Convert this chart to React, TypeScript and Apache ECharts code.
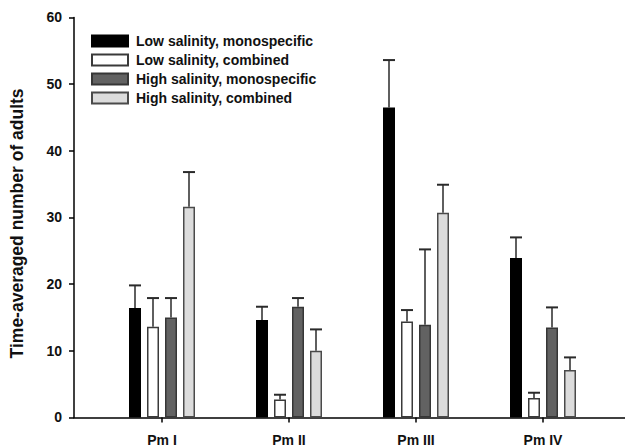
import React, { useEffect, useRef } from "react";
import * as echarts from "echarts";

const categories = ["Pm I", "Pm II", "Pm III", "Pm IV"];
const seriesNames = [
  "Low salinity, monospecific",
  "Low salinity, combined",
  "High salinity, monospecific",
  "High salinity, combined",
];
const lowMono = [16.4, 14.6, 46.5, 23.9];
const lowComb = [13.6, 2.7, 14.4, 2.9];
const highMono = [15.0, 16.6, 13.9, 13.5];
const highComb = [31.6, 10.0, 30.7, 7.1];
// upper error (SE) for each bar
const lowMonoErr = [3.4, 2.0, 7.1, 3.1];
const lowCombErr = [4.3, 0.7, 1.7, 0.8];
const highMonoErr = [2.9, 1.3, 11.3, 3.0];
const highCombErr = [5.2, 3.2, 4.2, 1.9];
const yTicks = [0, 10, 20, 30, 40, 50, 60];

const fills = ["#000000", "#ffffff", "#626262", "#dcdcdc"];
const borders = ["#000000", "#3a3a3a", "#363636", "#4a4a4a"];

const BAR_W = 12;
const BAR_GAP = 6;

export default function App() {
  const ref = useRef<HTMLDivElement>(null);
  useEffect(() => {
    if (!ref.current) return;
    const chart = echarts.init(ref.current, undefined, { renderer: "svg" });
    const values = [lowMono, lowComb, highMono, highComb];
    const errs = [lowMonoErr, lowCombErr, highMonoErr, highCombErr];
    const font = "'Liberation Sans', Arial, sans-serif";
    const nSer = values.length;
    const total = nSer * BAR_W + (nSer - 1) * BAR_GAP;

    const errData: any[] = [];
    values.forEach((arr, s) => {
      arr.forEach((v, i) => {
        errData.push([i, v, errs[s][i], s]);
      });
    });

    const bars = values.map((arr, s) => ({
      name: seriesNames[s],
      type: "bar",
      xAxisIndex: 1,
      yAxisIndex: 1,
      data: arr,
      barWidth: BAR_W,
      barGap: (BAR_GAP / BAR_W) * 100 + "%",
      itemStyle: { color: fills[s], borderColor: borders[s], borderWidth: 1.5 },
      z: 2,
    }));

    chart.setOption({
      animation: false,
      backgroundColor: "#ffffff",
      textStyle: { fontFamily: font },
      legend: {
        orient: "vertical",
        left: 91,
        top: 34,
        padding: 0,
        itemWidth: 36,
        itemHeight: 11,
        itemGap: 5,
        icon: "rect",
        selectedMode: false,
        data: seriesNames,
        textStyle: {
          fontFamily: font,
          fontSize: 14,
          fontWeight: "bold",
          color: "#111",
          padding: [0, 0, 0, 3],
        },
      },
      grid: [
        { left: 73, right: 0, top: 17.4, bottom: 30.6 },
        { left: 98.5, right: 18.5, top: 17.4, bottom: 30.6 },
      ],
      xAxis: [
        {
          type: "value",
          gridIndex: 0,
          min: 0,
          max: 1,
          axisLine: { show: true, lineStyle: { color: "#000", width: 1.5 } },
          axisTick: { show: false },
          axisLabel: { show: false },
          splitLine: { show: false },
        },
        {
          type: "category",
          gridIndex: 1,
          data: categories,
          axisLine: { show: false },
          axisTick: {
            show: true,
            alignWithLabel: true,
            length: 5,
            lineStyle: { color: "#000", width: 1.5 },
          },
          axisLabel: {
            fontFamily: font,
            fontSize: 14,
            fontWeight: "bold",
            color: "#111",
            margin: 16,
          },
        },
      ],
      yAxis: [
        {
          type: "value",
          gridIndex: 0,
          min: 0,
          max: 60,
          interval: 10,
          name: "Time-averaged number of adults",
          nameLocation: "middle",
          nameGap: 48,
          nameTextStyle: {
            fontFamily: font,
            fontSize: 17.5,
            fontWeight: "bold",
            color: "#111",
            padding: [0, 12, 0, 0],
          },
          axisLine: { show: true, lineStyle: { color: "#000", width: 1.5 } },
          axisTick: { show: true, length: 5, lineStyle: { color: "#000", width: 1.5 } },
          axisLabel: {
            fontFamily: font,
            fontSize: 14,
            fontWeight: "bold",
            color: "#111",
            margin: 12,
            formatter: (v: number) => (yTicks.includes(v) ? String(v) : ""),
          },
          splitLine: { show: false },
        },
        {
          type: "value",
          gridIndex: 1,
          min: 0,
          max: 60,
          interval: 10,
          show: false,
          splitLine: { show: false },
        },
      ],
      series: [
        ...bars,
        {
          type: "custom",
          xAxisIndex: 1,
          yAxisIndex: 1,
          z: 3,
          silent: true,
          data: errData,
          renderItem: (params: any, api: any) => {
            const ci = api.value(0);
            const v = api.value(1);
            const e = api.value(2);
            const s = api.value(3);
            const offset = -total / 2 + s * (BAR_W + BAR_GAP) + BAR_W / 2;
            const base = api.coord([ci, v]);
            const top = api.coord([ci, v + e]);
            const x = base[0] + offset;
            const style = { stroke: "#2a2a2a", lineWidth: 1.5 };
            return {
              type: "group",
              children: [
                { type: "line", shape: { x1: x, y1: base[1], x2: x, y2: top[1] }, style },
                {
                  type: "line",
                  shape: { x1: x - BAR_W / 2, y1: top[1], x2: x + BAR_W / 2, y2: top[1] },
                  style: { stroke: "#2a2a2a", lineWidth: 2 },
                },
              ],
            };
          },
        },
      ],
    });
    return () => chart.dispose();
  }, []);
  return (
    <div
      ref={ref}
      style={{ position: "absolute", left: 0, top: 0, width: 625, height: 448 }}
    />
  );
}
